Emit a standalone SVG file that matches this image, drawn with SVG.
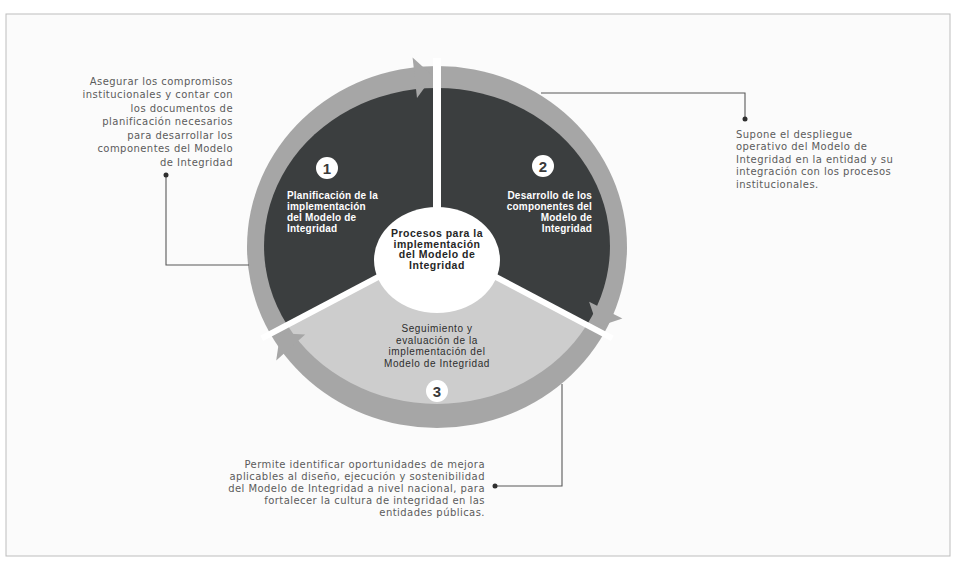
<svg xmlns="http://www.w3.org/2000/svg" width="956" height="563" viewBox="0 0 956 563">
<style>
.ann{font-family:"DejaVu Sans",sans-serif;font-size:10px;letter-spacing:0.45px;fill:#5b5b5b}
.seg{font-family:"Liberation Sans",Arial,sans-serif;font-size:10px;font-weight:bold;letter-spacing:0.2px;fill:#ffffff}
.hubt{font-family:"Liberation Sans",Arial,sans-serif;font-size:10.5px;font-weight:bold;letter-spacing:0.5px;fill:#262626;text-anchor:middle}
.seg3t{font-family:"Liberation Sans",Arial,sans-serif;font-size:10px;letter-spacing:0.6px;fill:#2e2e2e;text-anchor:middle}
.num{font-family:"Liberation Sans",Arial,sans-serif;font-size:15px;font-weight:bold;fill:#3a3a3a;text-anchor:middle}
.ring{fill:#a6a6a6}
.dark{fill:#3b3e3f}
.light{fill:#cdcdcd}
.sep{stroke:#ffffff;stroke-width:6;fill:none}
.conn{fill:none;stroke:#595959;stroke-width:1.1}
.dot{fill:#2f2f2f}
.badge{fill:#ffffff}
</style>
<rect width="956" height="563" fill="#ffffff"/>
<rect x="6" y="14" width="944" height="542" fill="#fbfbfb" stroke="#bdbdbd" stroke-width="1"/>

<g id="cycle-ring">
<ellipse cx="437" cy="247" rx="190" ry="181" class="ring"/>
</g>

<g id="node-1">
<path class="dark" d="M437,246 L287.2,325 A173,158 0 0,1 437,88 Z"/>
</g>
<g id="node-2">
<path class="dark" d="M437,246 L437,88 A173,158 0 0,1 586.8,325 Z"/>
</g>
<g id="node-3">
<path class="light" d="M437,246 L586.8,325 A173,158 0 0,1 287.2,325 Z"/>
</g>

<g id="separators">
<line class="sep" x1="437" y1="246" x2="437" y2="58" style="stroke-width:8"/>
<line class="sep" x1="437" y1="246" x2="261.7" y2="338.4"/>
<line class="sep" x1="437" y1="246" x2="612.3" y2="338.4"/>
</g>

<g id="arrowheads">
<polygon class="ring" points="412.6,57.4 433,76 417,98.1"/>
<polygon class="ring" points="589.1,301.8 622.4,318.5 597.7,326.8"/>
<polygon class="ring" points="305.2,334.6 276.2,360.6 280.2,333.3"/>
</g>

<g id="hub">
<ellipse cx="437" cy="260" rx="63" ry="53" fill="#ffffff"/>
<text class="hubt" x="437" y="237">Procesos para la</text>
<text class="hubt" x="437" y="247.5">implementación</text>
<text class="hubt" x="437" y="258">del Modelo de</text>
<text class="hubt" x="437" y="268.5">Integridad</text>
</g>

<g id="node-1-label">
<circle class="badge" cx="327" cy="168" r="11"/>
<text class="num" x="327" y="173.5">1</text>
<text class="seg" x="287" y="199">Planificación de la</text>
<text class="seg" x="287" y="210">implementación</text>
<text class="seg" x="287" y="221">del Modelo de</text>
<text class="seg" x="287" y="232">Integridad</text>
</g>

<g id="node-2-label">
<circle class="badge" cx="543" cy="166" r="11"/>
<text class="num" x="543" y="171.5">2</text>
<text class="seg" x="592" y="199" text-anchor="end">Desarrollo de los</text>
<text class="seg" x="592" y="210" text-anchor="end">componentes del</text>
<text class="seg" x="592" y="221" text-anchor="end">Modelo de</text>
<text class="seg" x="592" y="232" text-anchor="end">Integridad</text>
</g>

<g id="node-3-label">
<text class="seg3t" x="437" y="332">Seguimiento y</text>
<text class="seg3t" x="437" y="343.5">evaluación de la</text>
<text class="seg3t" x="437" y="355">implementación del</text>
<text class="seg3t" x="437" y="366.5">Modelo de Integridad</text>
<circle class="badge" cx="437" cy="391" r="11"/>
<text class="num" x="437" y="396.5">3</text>
</g>

<g id="connectors">
<path class="conn" d="M541,93 H745 V119"/>
<path class="conn" d="M166,175 V265 H249"/>
<path class="conn" d="M495,486 H562 V384"/>
<circle class="dot" cx="166" cy="175" r="2.5"/>
<circle class="dot" cx="745" cy="119" r="2.5"/>
<circle class="dot" cx="495" cy="486" r="2.5"/>
</g>

<g id="note-1">
<text class="ann" x="233" y="84.5" text-anchor="end">Asegurar los compromisos</text>
<text class="ann" x="233" y="98" text-anchor="end">institucionales y contar con</text>
<text class="ann" x="233" y="111.5" text-anchor="end">los documentos de</text>
<text class="ann" x="233" y="125" text-anchor="end">planificación necesarios</text>
<text class="ann" x="233" y="138.5" text-anchor="end">para desarrollar los</text>
<text class="ann" x="233" y="152" text-anchor="end">componentes del Modelo</text>
<text class="ann" x="233" y="165.5" text-anchor="end">de Integridad</text>
</g>

<g id="note-2">
<text class="ann" x="736" y="137.5">Supone el despliegue</text>
<text class="ann" x="736" y="150">operativo del Modelo de</text>
<text class="ann" x="736" y="162.5">Integridad en la entidad y su</text>
<text class="ann" x="736" y="175">integración con los procesos</text>
<text class="ann" x="736" y="187.5">institucionales.</text>
</g>

<g id="note-3">
<text class="ann" x="485" y="467.5" text-anchor="end">Permite identificar oportunidades de mejora</text>
<text class="ann" x="485" y="479.5" text-anchor="end">aplicables al diseño, ejecución y sostenibilidad</text>
<text class="ann" x="485" y="491.5" text-anchor="end">del Modelo de Integridad a nivel nacional, para</text>
<text class="ann" x="485" y="503.5" text-anchor="end">fortalecer la cultura de integridad en las</text>
<text class="ann" x="485" y="515.5" text-anchor="end">entidades públicas.</text>
</g>
</svg>
